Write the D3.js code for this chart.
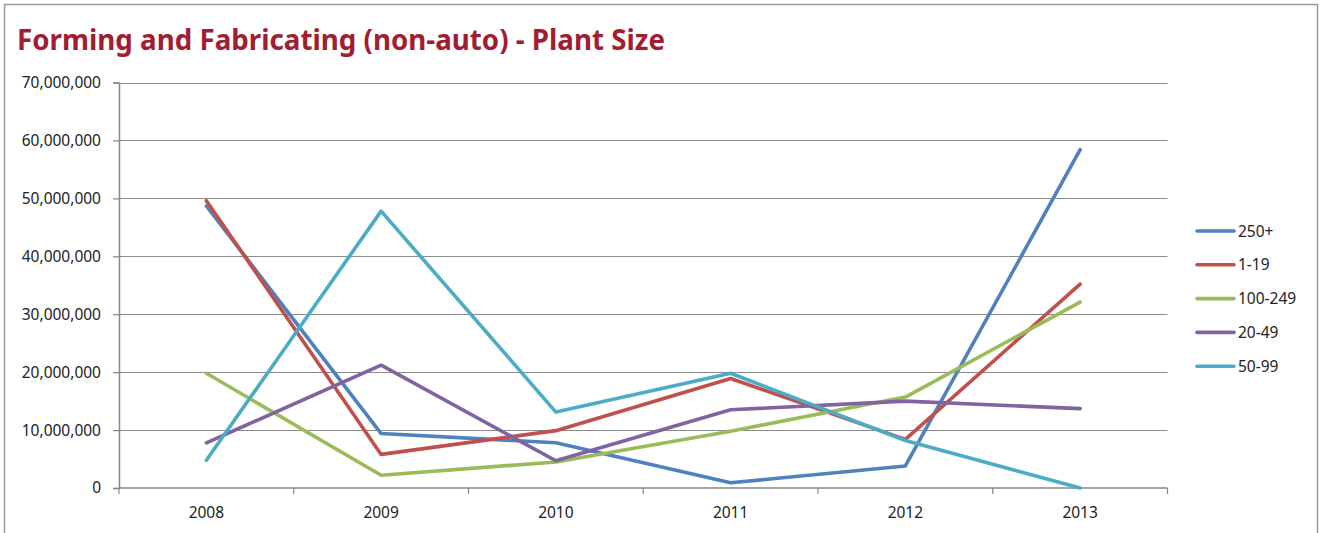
<!doctype html>
<html>
  <head>
    <meta charset="utf-8">
    <title>Forming and Fabricating (non-auto) - Plant Size</title>
    <script src="https://d3js.org/d3.v7.min.js"></script>
    <style type="text/css">
      body { margin: 0; background: #fff; }
      text { font-family: "Noto Sans", "Open Sans", sans-serif; fill: #222; }
    </style>
  </head>
  <body>
    <svg></svg>
    <script type="text/javascript">
      var w = 1319,
        h = 533;

      // data
      var years = ['2008', '2009', '2010', '2011', '2012', '2013'];
      var seriesNames = ['250+', '1-19', '100-249', '20-49', '50-99'];
      var seriesColors = ['#4f81bd', '#c0504d', '#9bbb59', '#8064a2', '#4bacc6'];
      var plant250 = [48700000, 9400000, 7800000, 900000, 3800000, 58400000];
      var plant1to19 = [49600000, 5800000, 9900000, 18900000, 8400000, 35200000];
      var plant100to249 = [19800000, 2200000, 4500000, 9800000, 15700000, 32100000];
      var plant20to49 = [7800000, 21200000, 4700000, 13500000, 15000000, 13700000];
      var plant50to99 = [4800000, 47800000, 13100000, 19800000, 8200000, 0];
      var yTicks = [0, 10000000, 20000000, 30000000, 40000000, 50000000, 60000000, 70000000];

      var seriesValues = [plant250, plant1to19, plant100to249, plant20to49, plant50to99];

      var margin = { left: 119, right: 1167.5, top: 82.5, bottom: 488 };

      var svg = d3.select('svg')
        .attr('width', w)
        .attr('height', h);

      // outer frame of the chart
      svg.append('path')
        .attr('d', 'M4.5,' + h + 'V4.5H1317.5V' + h)
        .attr('fill', 'none')
        .attr('stroke', '#9a9a9a')
        .attr('stroke-width', 1.5);

      svg.append('text')
        .text('Forming and Fabricating (non-auto) - Plant Size')
        .attr('x', 17)
        .attr('y', 50)
        .attr('textLength', 648)
        .attr('lengthAdjust', 'spacingAndGlyphs')
        .style('font-size', '28px')
        .style('font-weight', 'bold')
        .style('fill', '#a11d2f');

      var xScale = d3.scaleBand()
        .domain(years)
        .range([margin.left, margin.right]);
      var yScale = d3.scaleLinear()
        .domain([0, 70000000])
        .range([margin.bottom, margin.top]);

      function xMid(d) {
        return xScale(d) + xScale.bandwidth() / 2;
      }

      // gridlines
      svg.append('g')
        .selectAll('line')
        .data(yTicks.slice(1))
        .enter()
        .append('line')
        .attr('x1', margin.left)
        .attr('x2', margin.right)
        .attr('y1', function(d) { return Math.round(yScale(d)) + 0.5; })
        .attr('y2', function(d) { return Math.round(yScale(d)) + 0.5; })
        .attr('stroke', '#8c8c8c')
        .attr('stroke-width', 1.2);

      // y axis
      var yAxis = svg.append('g')
        .attr('transform', 'translate(' + margin.left + ',0)')
        .call(d3.axisLeft(yScale)
          .tickValues(yTicks)
          .tickFormat(d3.format(','))
          .tickSize(6)
          .tickPadding(12));
      yAxis.select('.domain').attr('stroke', '#868686').attr('stroke-width', 1.5);
      yAxis.selectAll('.tick line').attr('stroke', '#868686').attr('stroke-width', 1.2);
      yAxis.selectAll('.tick text')
        .style('font-size', '15.5px')
        .style('font-family', '"Noto Sans", sans-serif')
        .attr('fill', '#222');

      // x axis
      var xAxisG = svg.append('g')
        .attr('transform', 'translate(0,' + margin.bottom + ')');
      xAxisG.append('line')
        .attr('x1', margin.left)
        .attr('x2', margin.right)
        .attr('stroke', '#868686')
        .attr('stroke-width', 1.5);
      xAxisG.selectAll('line.tk')
        .data(years.concat(['end']))
        .enter()
        .append('line')
        .attr('class', 'tk')
        .attr('x1', function(d, i) { return i < years.length ? xScale(d) : margin.right; })
        .attr('x2', function(d, i) { return i < years.length ? xScale(d) : margin.right; })
        .attr('y1', 0)
        .attr('y2', 6)
        .attr('stroke', '#868686')
        .attr('stroke-width', 1.2);
      xAxisG.selectAll('text')
        .data(years)
        .enter()
        .append('text')
        .text(function(d) { return d; })
        .attr('x', xMid)
        .attr('y', 30)
        .attr('text-anchor', 'middle')
        .style('font-size', '15.5px');

      // series lines
      var line = d3.line()
        .x(function(d, i) { return xMid(years[i]); })
        .y(function(d) { return yScale(d); });

      svg.append('g')
        .selectAll('path')
        .data(seriesValues)
        .enter()
        .append('path')
        .attr('d', line)
        .attr('fill', 'none')
        .attr('stroke', function(d, i) { return seriesColors[i]; })
        .attr('stroke-width', 3.6)
        .attr('stroke-linejoin', 'round')
        .attr('stroke-linecap', 'round');

      // legend
      var legend = svg.append('g')
        .selectAll('g')
        .data(seriesNames)
        .enter()
        .append('g')
        .attr('transform', function(d, i) {
          return 'translate(1197,' + (231 + i * 33.8) + ')';
        });
      legend.append('line')
        .attr('x1', 0)
        .attr('x2', 37)
        .attr('stroke', function(d, i) { return seriesColors[i]; })
        .attr('stroke-width', 3.6)
        .attr('stroke-linecap', 'round');
      legend.append('text')
        .text(function(d) { return d; })
        .attr('x', 41)
        .attr('y', 5.5)
        .style('font-size', '15.5px');
    </script>
  </body>
</html>
